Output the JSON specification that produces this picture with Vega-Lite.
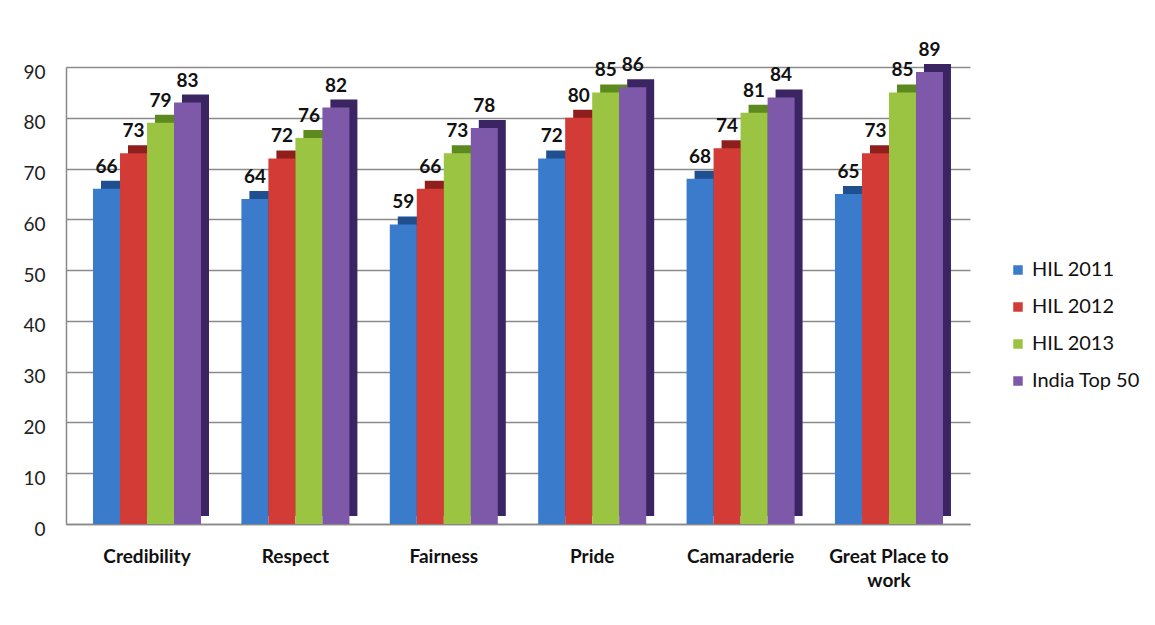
{
  "$schema": "https://vega.github.io/schema/vega-lite/v6.json",
  "width": 904,
  "height": 457,
  "autosize": {"type": "none"},
  "padding": {"left": 66, "top": 67, "right": 185, "bottom": 101},
  "background": "white",
  "config": {
    "view": {"stroke": null},
    "font": "Lato"
  },
  "data": {
    "values": [
      {"category": "Credibility", "series": "HIL 2011", "value": 66},
      {"category": "Credibility", "series": "HIL 2012", "value": 73},
      {"category": "Credibility", "series": "HIL 2013", "value": 79},
      {"category": "Credibility", "series": "India Top 50", "value": 83},
      {"category": "Respect", "series": "HIL 2011", "value": 64},
      {"category": "Respect", "series": "HIL 2012", "value": 72},
      {"category": "Respect", "series": "HIL 2013", "value": 76},
      {"category": "Respect", "series": "India Top 50", "value": 82},
      {"category": "Fairness", "series": "HIL 2011", "value": 59},
      {"category": "Fairness", "series": "HIL 2012", "value": 66},
      {"category": "Fairness", "series": "HIL 2013", "value": 73},
      {"category": "Fairness", "series": "India Top 50", "value": 78},
      {"category": "Pride", "series": "HIL 2011", "value": 72},
      {"category": "Pride", "series": "HIL 2012", "value": 80},
      {"category": "Pride", "series": "HIL 2013", "value": 85},
      {"category": "Pride", "series": "India Top 50", "value": 86},
      {"category": "Camaraderie", "series": "HIL 2011", "value": 68},
      {"category": "Camaraderie", "series": "HIL 2012", "value": 74},
      {"category": "Camaraderie", "series": "HIL 2013", "value": 81},
      {"category": "Camaraderie", "series": "India Top 50", "value": 84},
      {"category": "Great Place to work", "series": "HIL 2011", "value": 65},
      {"category": "Great Place to work", "series": "HIL 2012", "value": 73},
      {"category": "Great Place to work", "series": "HIL 2013", "value": 85},
      {"category": "Great Place to work", "series": "India Top 50", "value": 89}
    ]
  },
  "encoding": {
    "x": {
      "field": "category",
      "type": "nominal",
      "sort": null,
      "scale": {"paddingInner": 0.272, "paddingOuter": 0.182},
      "axis": {
        "title": null,
        "labelAngle": 0,
        "labelFontSize": 19,
        "labelFontWeight": "bold",
        "labelColor": "#111111",
        "labelPadding": 23,
        "ticks": false,
        "domainColor": "#888888",
        "domainWidth": 1.5,
        "labelLineHeight": 24,
        "labelExpr": "datum.label == 'Great Place to work' ? ['Great Place to', 'work'] : datum.label"
      }
    },
    "y": {
      "field": "value",
      "type": "quantitative",
      "scale": {"domain": [0, 90], "nice": false},
      "axis": {
        "title": null,
        "values": [0, 10, 20, 30, 40, 50, 60, 70, 80, 90],
        "labelFontSize": 19,
        "labelColor": "#222222",
        "labelPadding": 21,
        "labelOffset": 5,
        "ticks": false,
        "domainColor": "#888888",
        "domainWidth": 1.5,
        "gridColor": "#8a8a8a",
        "gridWidth": 1.5
      }
    }
  },
  "layer": [
    {
      "mark": {"type": "bar", "yOffset": -8},
      "encoding": {
        "xOffset": {
          "field": "series",
          "type": "nominal",
          "sort": ["HIL 2011", "HIL 2012", "HIL 2013", "India Top 50"],
          "scale": {"paddingInner": 0, "paddingOuter": 0, "range": [8, 116]}
        },
        "color": {
          "field": "series",
          "type": "nominal",
          "scale": {
            "domain": ["HIL 2011", "HIL 2012", "HIL 2013", "India Top 50"],
            "range": ["#1f4f8f", "#8e1f1c", "#5c8a1e", "#3a2462"]
          },
          "legend": null
        }
      }
    },
    {
      "mark": {"type": "bar"},
      "encoding": {
        "xOffset": {
          "field": "series",
          "type": "nominal",
          "sort": ["HIL 2011", "HIL 2012", "HIL 2013", "India Top 50"],
          "scale": {"paddingInner": 0, "paddingOuter": 0}
        },
        "color": {
          "field": "series",
          "type": "nominal",
          "scale": {
            "domain": ["HIL 2011", "HIL 2012", "HIL 2013", "India Top 50"],
            "range": ["#3b7bcc", "#d33b37", "#9cc443", "#7e58a9"]
          },
          "legend": {
            "title": null,
            "orient": "none",
            "legendX": 942,
            "legendY": 193,
            "symbolType": "square",
            "symbolSize": 90,
            "symbolStrokeWidth": 0,
            "labelFontSize": 20,
            "labelColor": "#111111",
            "labelOffset": 4,
            "rowPadding": 17
          }
        }
      }
    },
    {
      "mark": {"type": "text", "baseline": "bottom", "dy": -12, "fontSize": 19, "fontWeight": "bold", "color": "#111111"},
      "encoding": {
        "xOffset": {
          "field": "series",
          "type": "nominal",
          "sort": ["HIL 2011", "HIL 2012", "HIL 2013", "India Top 50"],
          "scale": {"type": "band", "paddingInner": 0, "paddingOuter": 0}
        },
        "text": {"field": "value", "type": "quantitative"}
      }
    }
  ],
  "resolve": {"scale": {"color": "independent", "xOffset": "independent"}}
}
